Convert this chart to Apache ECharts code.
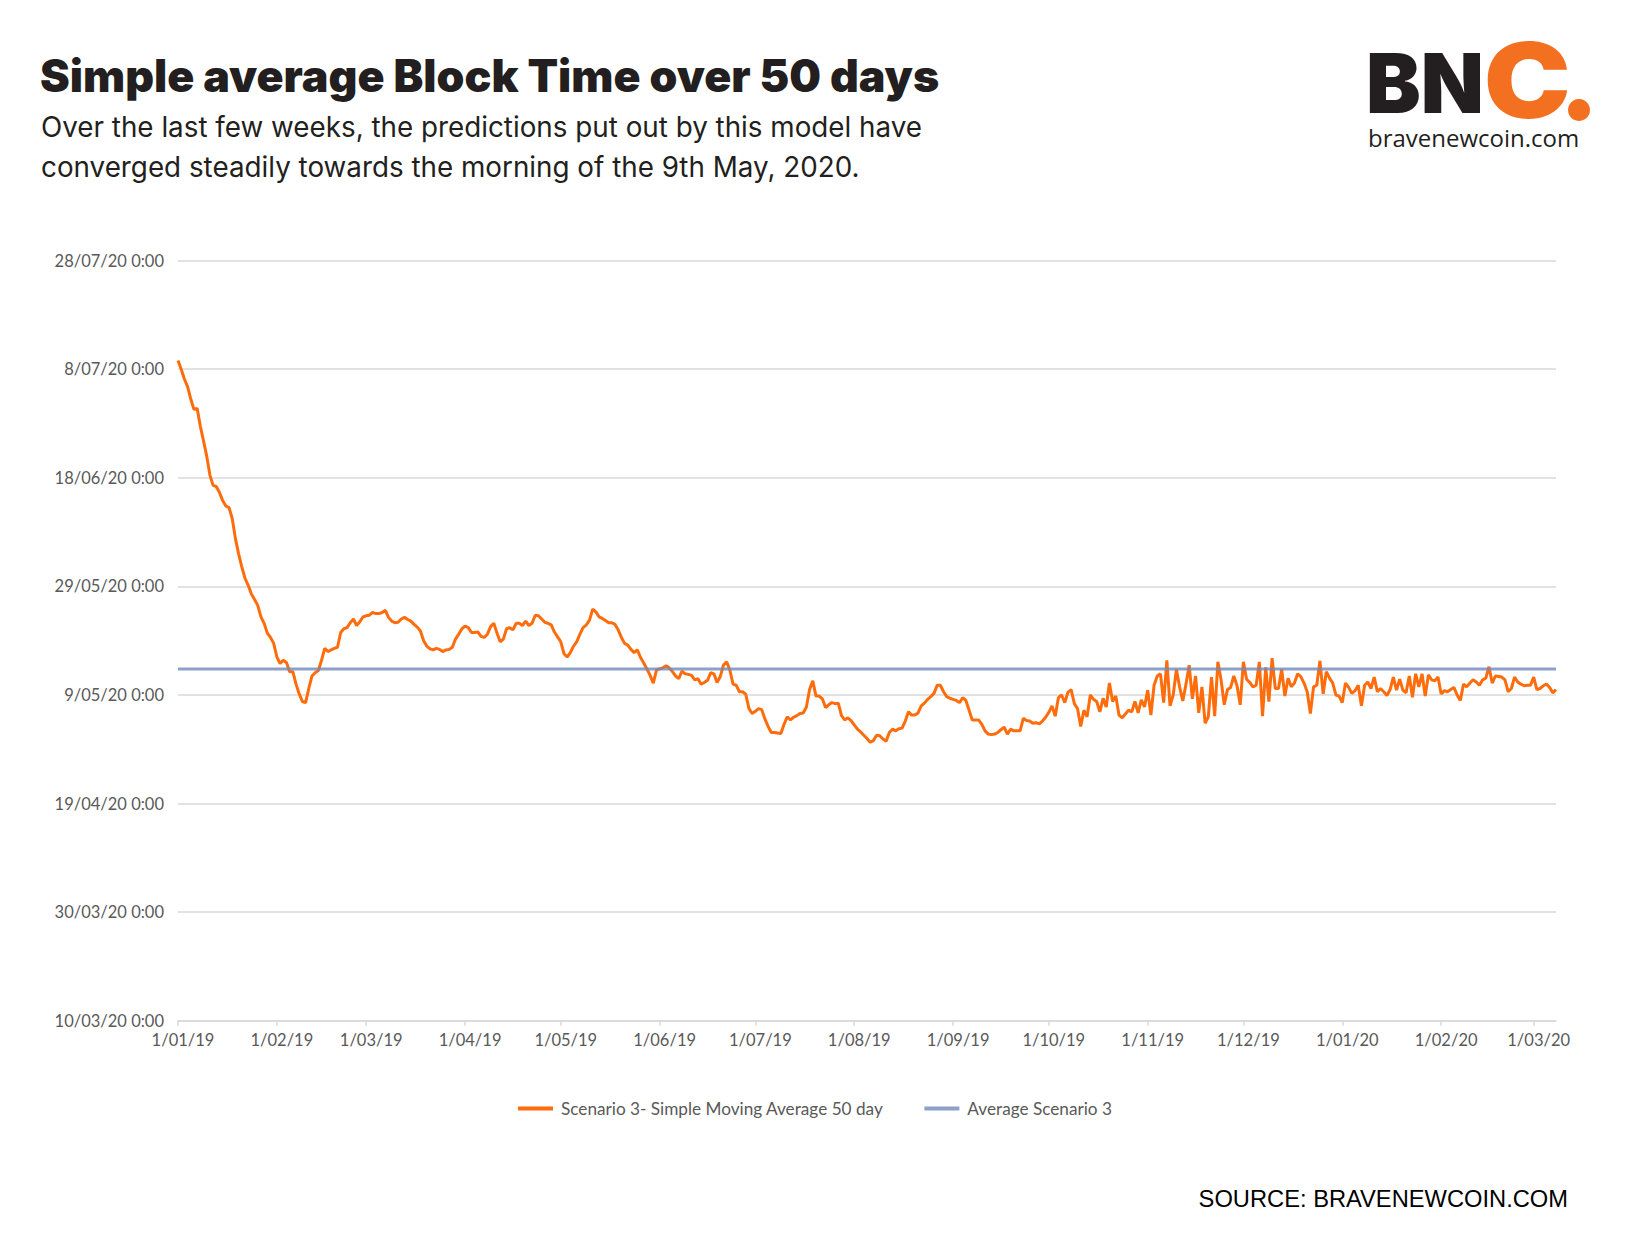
<!DOCTYPE html>
<html>
<head>
<meta charset="utf-8">
<script src="https://cdn.jsdelivr.net/npm/echarts@6/dist/echarts.min.js"></script>
<style>
  html, body { margin: 0; padding: 0; background: #ffffff; }
  #chart { width: 1630px; height: 1251px; }
</style>
</head>
<body>
<div id="chart"></div>
<script>
// ---- DATA ----
// x: daily categories starting 1 Jan 2019
const startDate = '2019-01-01';
// y: predicted date, expressed as days after 10/03/20 (axis minimum)
const yTickLabels = ['10/03/20 0:00', '30/03/20 0:00', '19/04/20 0:00', '9/05/20 0:00',
                     '29/05/20 0:00', '18/06/20 0:00', '8/07/20 0:00', '28/07/20 0:00'];
const yMin = 0, yMax = 140, yStep = 20;

const seriesNames = ['Scenario 3- Simple Moving Average 50 day', 'Average Scenario 3'];

// Scenario 3 - SMA 50 day (days after 10/03/20), one value per day
const sma50 = [
  121.6,120.0,118.2,116.8,114.5,112.6,112.8,109.5,106.8,104.0,
  100.5,98.6,98.4,97.3,95.8,94.8,94.5,92.5,88.8,86.0,
  83.6,81.5,80.2,78.6,77.6,76.5,74.4,73.2,71.4,70.6,
  69.5,67.0,65.8,66.4,66.0,64.3,64.3,62.0,60.2,58.8,
  58.6,61.2,63.5,64.1,64.5,66.4,68.6,68.0,68.3,68.6,
  68.8,71.5,72.2,72.4,73.3,74.0,72.8,73.5,74.4,74.6,
  74.7,75.2,75.0,75.0,75.2,75.6,74.3,73.6,73.3,73.4,
  74.0,74.3,73.9,73.6,73.0,72.5,71.8,70.0,69.0,68.5,
  68.3,68.6,68.4,68.0,68.3,68.4,68.8,70.3,71.2,72.2,
  72.7,72.4,71.5,71.5,71.6,70.8,70.6,71.2,72.6,73.2,
  71.4,69.8,70.3,72.2,72.4,72.0,73.2,73.2,72.8,73.6,
  72.8,73.2,74.7,74.6,74.0,73.4,73.2,72.9,71.6,70.7,
  69.8,67.6,67.0,67.8,69.0,69.8,71.2,72.4,72.9,73.8,
  75.8,75.3,74.4,74.1,73.7,73.3,73.3,73.0,72.0,70.6,
  69.5,69.2,68.4,67.8,68.3,66.9,65.9,64.8,63.6,62.2,
  64.6,64.8,65.0,65.4,65.0,64.3,63.5,63.0,64.4,63.9,
  63.8,63.6,62.8,63.0,62.0,62.3,62.7,64.1,63.9,62.3,
  63.4,65.5,66.1,64.6,62.0,61.8,60.6,60.6,60.1,57.5,
  56.6,57.0,57.5,57.3,55.6,54.2,53.1,53.1,53.0,52.9,
  54.6,56.0,55.4,55.9,56.2,56.6,56.7,57.8,61.0,62.6,
  59.8,59.8,59.3,57.7,58.2,58.6,58.4,58.5,56.2,55.4,
  55.8,55.3,54.5,53.7,53.2,52.6,52.0,51.3,51.6,52.6,
  52.5,51.9,51.5,53.1,53.7,53.4,53.8,53.9,55.2,56.9,
  56.3,56.3,56.7,58.0,58.5,59.2,59.7,60.3,61.8,61.8,
  60.6,59.7,59.4,59.2,59.0,58.6,59.5,59.0,57.2,55.4,
  55.4,55.4,54.6,53.4,52.8,52.7,52.8,53.1,53.6,54.1,
  52.8,53.7,53.4,53.4,53.4,55.7,55.3,55.2,54.8,54.9,
  54.7,55.2,55.9,56.8,58.0,56.1,59.5,60.0,58.6,60.5,
  61.0,58.4,57.5,54.2,57.2,56.0,60.0,59.2,58.8,56.9,
  59.4,57.8,62.2,58.8,59.8,56.3,55.8,56.5,57.2,56.9,
  58.8,56.7,59.1,57.8,60.9,56.3,61.8,63.5,63.9,58.6,
  66.4,58.0,60.0,64.7,61.5,58.9,62.0,65.5,59.3,63.5,
  56.7,61.5,54.8,56.0,63.3,56.1,66.1,62.8,58.2,61.0,
  61.4,63.5,61.7,58.2,66.1,62.9,62.3,61.5,61.8,66.1,
  56.1,65.1,58.8,66.8,61.2,61.2,64.7,59.8,63.1,61.5,
  62.2,63.9,63.4,62.2,60.6,56.6,61.5,61.8,66.3,60.2,
  64.3,63.1,62.2,60.0,59.8,58.6,62.2,61.4,60.3,60.8,
  61.8,58.0,61.8,62.4,61.2,63.3,60.6,61.2,60.6,59.9,
  61.0,63.3,60.9,62.9,60.9,60.4,63.5,59.6,63.9,61.5,
  63.9,59.8,63.7,62.8,62.6,63.3,60.2,60.8,60.6,61.0,
  61.4,60.0,59.0,62.0,61.5,62.2,62.8,62.4,61.8,62.8,
  63.1,65.2,62.2,63.5,63.4,63.3,62.8,60.6,61.2,63.3,
  62.4,62.0,61.7,61.8,61.8,63.3,61.0,61.2,61.7,62.0,
  61.4,60.4,61.0
];

// Average of scenario 3 (days after 10/03/20)
const averageScenario3 = 64.8;

// ---- BUILD ----
const dayCats = [];
const isMonthStart = [];
(function () {
  const p = startDate.split('-').map(Number);
  for (let i = 0; i < sma50.length; i++) {
    const d = new Date(Date.UTC(p[0], p[1] - 1, p[2] + i));
    const dd = d.getUTCDate();
    const mm = String(d.getUTCMonth() + 1).padStart(2, '0');
    const yy = String(d.getUTCFullYear() % 100).padStart(2, '0');
    dayCats.push(dd + '/' + mm + '/' + yy);
    isMonthStart.push(dd === 1);
  }
})();

const avgData = [[0, averageScenario3], [sma50.length - 1, averageScenario3]];

const labelColor = '#595959';
const gridColor = '#d9d9d9';

const chart = echarts.init(document.getElementById('chart'), null, { renderer: 'svg' });
chart.setOption({
  backgroundColor: '#ffffff',
  animation: false,
  title: [
    {
      text: 'Simple average Block Time over 50 days',
      left: 35, top: 48,
      textStyle: { fontFamily: 'Inter', fontWeight: 900, fontSize: 44.7, color: '#231f20' }
    },
    {
      text: 'Over the last few weeks, the predictions put out by this model have\nconverged steadily towards the morning of the 9th May, 2020.',
      left: 36, top: 102,
      textStyle: { fontFamily: 'Inter', fontWeight: 400, fontSize: 27.8, lineHeight: 40, color: '#231f20' }
    },
    {
      text: 'SOURCE: BRAVENEWCOIN.COM',
      right: 57, top: 1182,
      textStyle: { fontFamily: 'Liberation Sans', fontWeight: 400, fontSize: 23.7, color: '#000000' }
    }
  ],
  graphic: [
    { type: 'text', left: 1366, top: 42,
      style: { text: 'BN', font: '900 82px Inter', lineHeight: 72, fill: '#231f20' } },
    { type: 'text', left: 1482, top: 27, scaleX: 1.12,
      style: { text: 'C', font: '900 104px Inter', lineHeight: 80, fill: '#f37021', stroke: '#ffffff', lineWidth: 3 } },
    { type: 'circle', shape: { cx: 1579, cy: 110, r: 11 },
      style: { fill: '#f37021' } },
    { type: 'text', left: 1368, top: 125,
      style: { text: 'bravenewcoin.com', font: '400 24px "Open Sans"', fill: '#231f20' } }
  ],
  legend: {
    top: 1095, left: 'center',
    itemWidth: 35, itemHeight: 4, itemGap: 41,
    icon: 'rect',
    textStyle: { fontFamily: 'Lato', fontSize: 17.2, color: labelColor, padding: [0, 0, 0, 3] },
    data: seriesNames
  },
  grid: { left: 178, right: 74, top: 260.6, bottom: 230.2, containLabel: false },
  xAxis: {
    type: 'category',
    data: dayCats,
    boundaryGap: false,
    axisLine: { lineStyle: { color: gridColor, width: 1.5 } },
    axisTick: { show: true, length: 5, interval: (i) => isMonthStart[i], lineStyle: { color: gridColor, width: 1.5 } },
    axisLabel: {
      interval: (i) => isMonthStart[i],
      fontFamily: 'Lato', fontSize: 16.5, color: labelColor, margin: 11,
      padding: [0, 0, 0, 10]
    },
    splitLine: { show: false }
  },
  yAxis: {
    type: 'value',
    min: yMin, max: yMax, interval: yStep,
    axisLine: { show: false },
    axisTick: { show: false },
    axisLabel: {
      fontFamily: 'Lato', fontSize: 16.5, color: labelColor, margin: 14,
      formatter: (v) => yTickLabels[Math.round((v - yMin) / yStep)]
    },
    splitLine: { lineStyle: { color: gridColor, width: 1.5 } }
  },
  series: [
    {
      name: seriesNames[0], type: 'line', data: sma50,
      showSymbol: false, symbol: 'none',
      lineStyle: { color: '#ff6c0c', width: 3 },
      itemStyle: { color: '#ff6c0c' },
      z: 2
    },
    {
      name: seriesNames[1], type: 'line', data: avgData,
      showSymbol: false, symbol: 'none',
      lineStyle: { color: '#7088ba', width: 3, opacity: 0.8 },
      itemStyle: { color: '#8da0c8' },
      z: 3
    }
  ]
});
</script>
</body>
</html>
